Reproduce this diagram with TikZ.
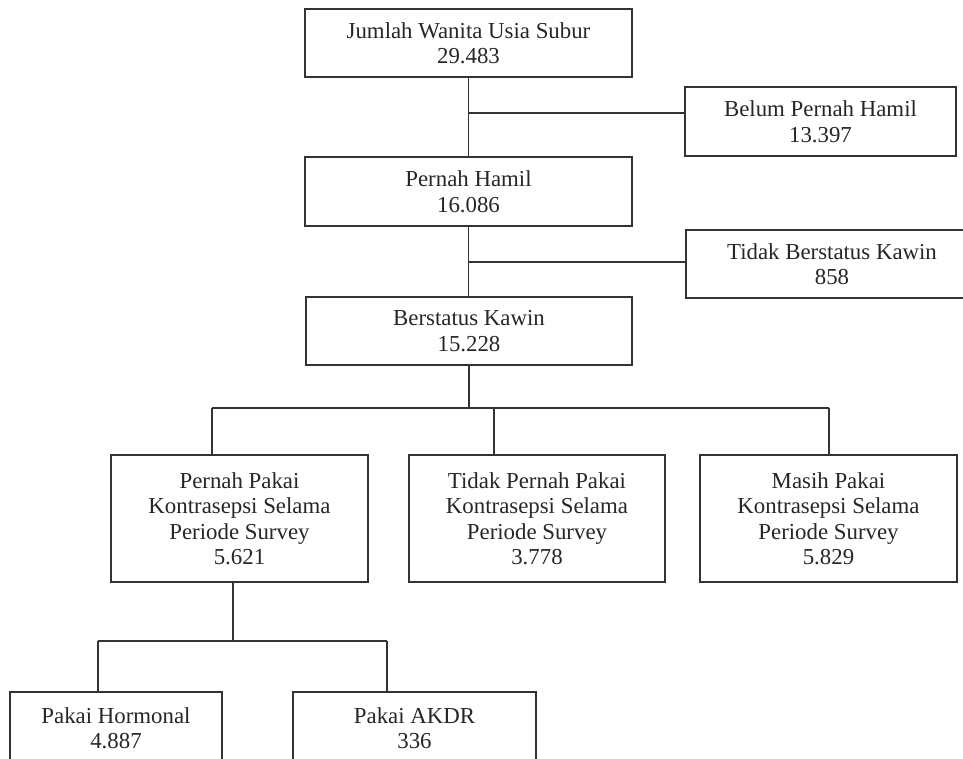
\documentclass[tikz,border=0pt]{standalone}
\usepackage{fontspec}
\setmainfont{Liberation Serif}
\begin{document}
\begin{tikzpicture}[x=0.02cm, y=-0.02cm,
        kotak/.style={draw=black!80, line width=0.9pt, text=black!85, align=center, inner sep=0pt, font=\fontsize{13}{14.5}\selectfont},
        garis/.style={draw=black!80, line width=0.9pt}]
    \useasboundingbox (0,0) rectangle (963,758);
    \node[kotak, minimum width=6.54cm, minimum height=1.36cm] (wus) at (468.5,43) {Jumlah Wanita Usia Subur\\29.483};
    \node[kotak, minimum width=5.42cm, minimum height=1.38cm] (belum) at (820.5,121.5) {Belum Pernah Hamil\\13.397};
    \node[kotak, minimum width=6.54cm, minimum height=1.38cm] (hamil) at (468.5,191.5) {Pernah Hamil\\16.086};
    \node[kotak, minimum width=5.84cm, minimum height=1.36cm] (tidakkawin) at (832,264) {Tidak Berstatus Kawin\\858};
    \node[kotak, minimum width=6.52cm, minimum height=1.36cm] (kawin) at (469,331) {Berstatus Kawin\\15.228};
    \node[kotak, minimum width=5.14cm, minimum height=2.54cm] (pernahpakai) at (239.5,518.5) {Pernah Pakai\\Kontrasepsi Selama\\Periode Survey\\5.621};
    \node[kotak, minimum width=5.12cm, minimum height=2.54cm] (tidakpakai) at (537,518.5) {Tidak Pernah Pakai\\Kontrasepsi Selama\\Periode Survey\\3.778};
    \node[kotak, minimum width=5.14cm, minimum height=2.54cm] (masihpakai) at (828.5,518.5) {Masih Pakai\\Kontrasepsi Selama\\Periode Survey\\5.829};
    \node[kotak, minimum width=4.24cm, minimum height=1.44cm] (hormonal) at (116,728) {Pakai Hormonal\\4.887};
    \node[kotak, minimum width=4.86cm, minimum height=1.44cm] (akdr) at (414.5,728) {Pakai AKDR\\336};
    % cabang atas
    \coordinate (cab1) at (468.5,113);
    \coordinate (cab2) at (468.5,262);
    \draw[garis] (wus.south) -- (hamil.north);
    \draw[garis] (cab1) -- (cab1 -| belum.west);
    \draw[garis] (hamil.south) -- (hamil.south |- kawin.north);
    \draw[garis] (cab2) -- (cab2 -| tidakkawin.west);
    % cabang kontrasepsi
    \coordinate (cab3) at (469,408);
    \coordinate (kiri) at (212,408);
    \coordinate (tengah) at (494,408);
    \coordinate (kanan) at (829,408);
    \draw[garis] (kawin.south) -- (cab3);
    \draw[garis] (kiri) -- (kanan);
    \draw[garis] (kiri) -- (kiri |- pernahpakai.north);
    \draw[garis] (tengah) -- (tengah |- tidakpakai.north);
    \draw[garis] (kanan) -- (kanan |- masihpakai.north);
    % cabang jenis alat
    \coordinate (cab4) at (233,641);
    \coordinate (hk) at (98,641);
    \coordinate (ak) at (387,641);
    \draw[garis] (cab4 |- pernahpakai.south) -- (cab4);
    \draw[garis] (hk) -- (ak);
    \draw[garis] (hk) -- (hk |- hormonal.north);
    \draw[garis] (ak) -- (ak |- akdr.north);
\end{tikzpicture}
\end{document}
